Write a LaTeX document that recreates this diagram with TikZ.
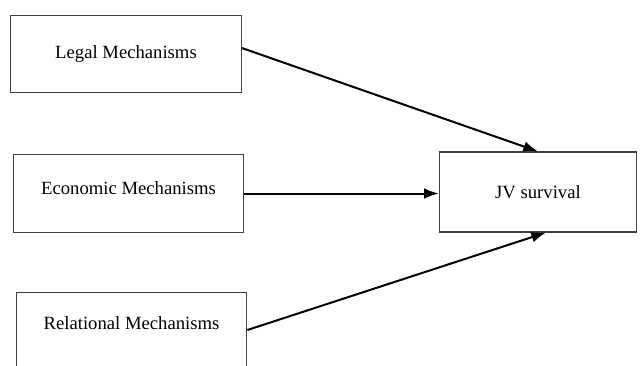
\documentclass[tikz,border=0pt]{standalone}
\usepackage{fontspec}
\setmainfont{Liberation Serif}
\usepackage{tikz}
\usetikzlibrary{arrows.meta}

\begin{document}
\begin{tikzpicture}[x=0.75pt,y=-0.75pt,
  mech/.style={draw=black!75, line width=0.8pt, minimum width=173pt, inner sep=0pt, font=\fontsize{14}{16}\selectfont},
  link/.style={line width=1.5pt, -{Latex[length=11pt,width=8pt]}}]
\clip (0,0) rectangle (640,365);
\node[mech, minimum height=58pt] (legal) at (126,54) {Legal Mechanisms};
\node[mech, minimum height=58pt, text depth=8pt] (econ) at (128.5,193.5) {Economic Mechanisms};
\node[mech, minimum height=56pt, text depth=11pt] (rel) at (131.5,330) {Relational Mechanisms};
\node[mech, minimum width=148pt, minimum height=60pt] (jv) at (538,192) {JV survival};
\draw[link] ([yshift=4.5pt]legal.east) -- (jv.north);
\draw[link] (econ.east) -- (econ.east -| jv.west);
\draw[link] (rel.east) -- ([xshift=6pt]jv.south);
\end{tikzpicture}
\end{document}
